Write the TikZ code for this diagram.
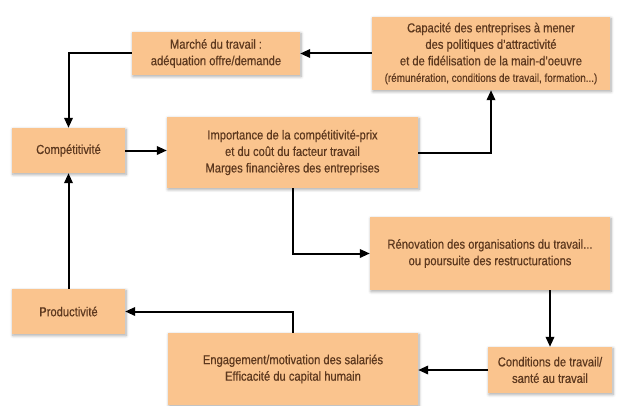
\documentclass[tikz,border=0pt]{standalone}
\usepackage{fontspec}
\setmainfont[FakeStretch=0.86,FakeBold=0.5]{Liberation Sans}
\usetikzlibrary{arrows.meta,shadows.blur}

\definecolor{boxfill}{RGB}{250,196,142}
\definecolor{boxtext}{RGB}{92,56,30}

\tikzset{
  facteur/.style={draw=none, fill=boxfill, text=boxtext, align=center,
    inner sep=2pt, font=\fontsize{13}{16.5}\selectfont,
    blur shadow={shadow blur steps=6, shadow xshift=1pt, shadow yshift=-1.5pt,
      shadow opacity=35, shadow blur radius=3pt}},
  lien/.style={line width=2pt, -{Triangle[length=10pt,width=8.5pt]}}
}

\begin{document}
\begin{tikzpicture}[x=1pt,y=1pt]
\useasboundingbox (0,0) rectangle (620,405);
% cases
\node[facteur, minimum width=168, minimum height=43] (marche) at (216,351.5)
  {Marché du travail :\\adéquation offre/demande};
\node[facteur, minimum width=238, minimum height=73] (capacite) at (491,351.5)
  {Capacité des entreprises à mener\\des politiques d'attractivité\\et de fidélisation de la main-d'oeuvre\\{\fontsize{11.5}{14}\selectfont(rémunération, conditions de travail, formation...)}};
\node[facteur, minimum width=113, minimum height=45] (compet) at (68.5,254.5)
  {Compétitivité};
\node[facteur, minimum width=251, minimum height=71] (importance) at (292.5,252.5)
  {Importance de la compétitivité-prix\\et du coût du facteur travail\\Marges financières des entreprises};
\node[facteur, minimum width=240, minimum height=73] (renov) at (490,151.5)
  {Rénovation des organisations du travail...\\ou poursuite des restructurations};
\node[facteur, minimum width=113, minimum height=45] (produc) at (68.5,93.5)
  {Productivité};
\node[facteur, minimum width=250, minimum height=72] (engag) at (293,36)
  {Engagement/motivation des salariés\\Efficacité du capital humain};
\node[facteur, minimum width=124, minimum height=46] (cond) at (550,35)
  {Conditions de travail/\\santé au travail};

% liens
\draw[lien] (capacite.west) -- (marche.east);
\draw[lien] (marche.west) -| (compet.north);
\draw[lien] (compet.east) -- (compet.east -| importance.west);
\draw[lien] (importance.east) -| (capacite.south);
\draw[lien] (importance.south) |- (renov.west);
\draw[lien] (renov.south -| cond.north) -- (cond.north);
\draw[lien] (cond.west) -- (cond.west -| engag.east);
\draw[lien] (engag.north) |- (produc.east);
\draw[lien] (produc.north) -- (compet.south);
\end{tikzpicture}
\end{document}
